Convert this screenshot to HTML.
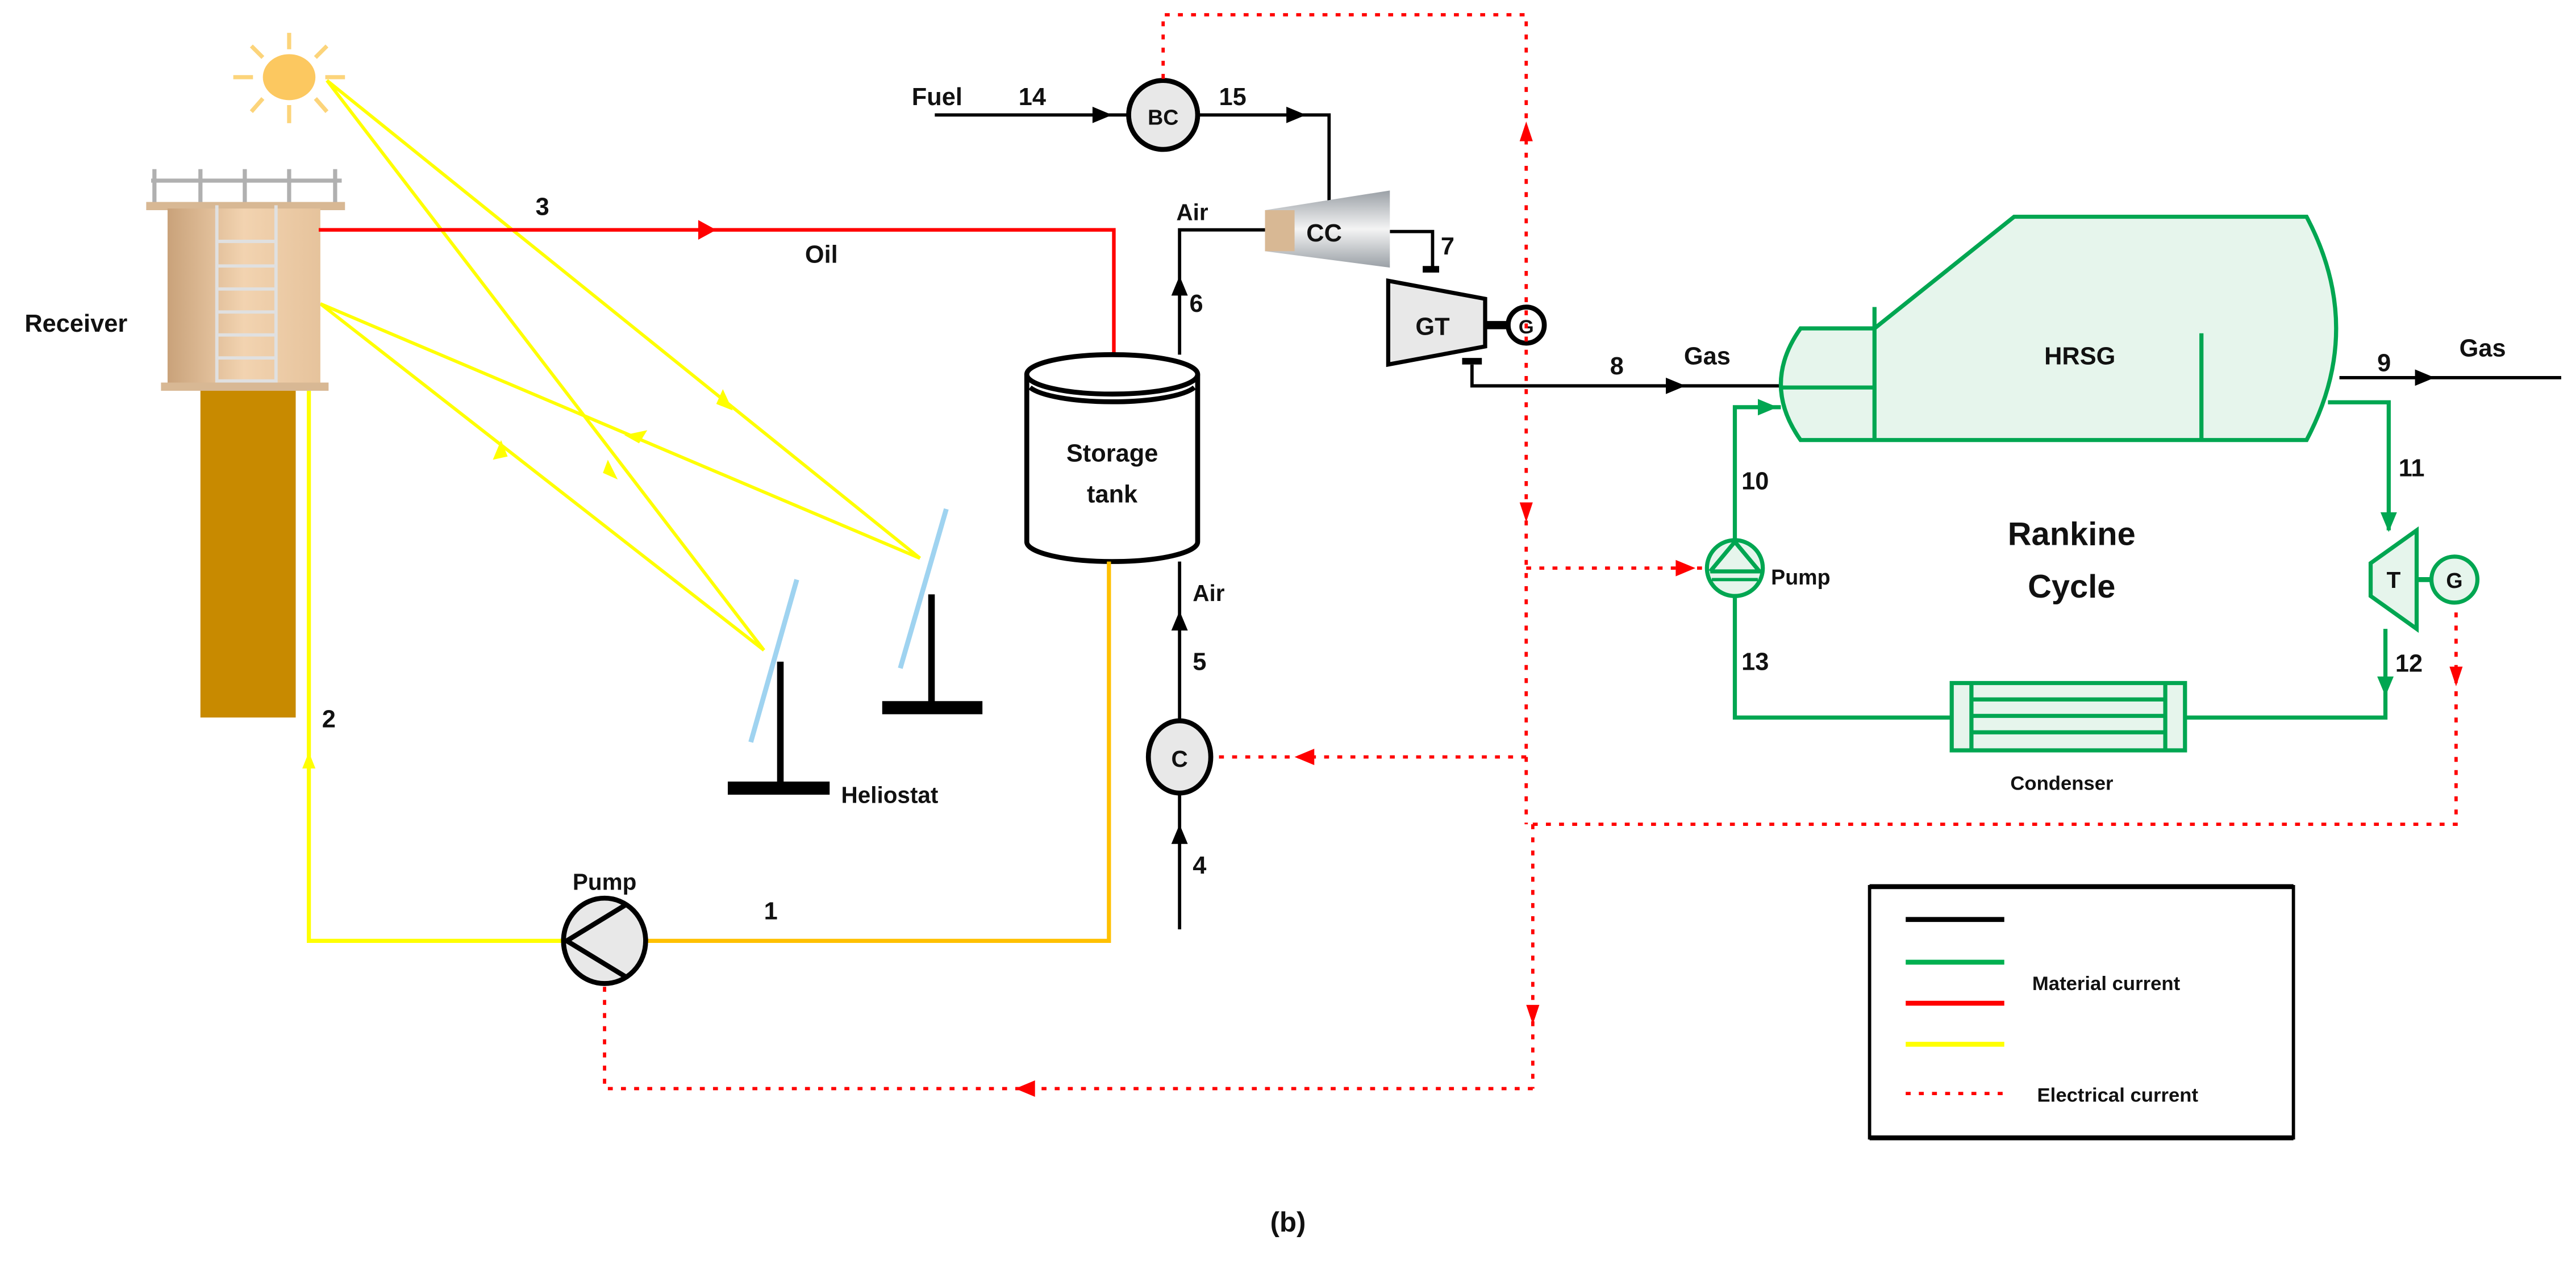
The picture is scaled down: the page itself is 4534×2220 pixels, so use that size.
<!DOCTYPE html>
<html><head><meta charset="utf-8"><style>html,body{margin:0;padding:0;background:#fff}svg{display:block}text{font-family:"Liberation Sans",Arial,sans-serif;font-weight:bold;fill:#111}</style></head>
<body>
<svg width="4534" height="2220" viewBox="0 0 1568 768" preserveAspectRatio="none" xmlns="http://www.w3.org/2000/svg">
<defs>
<linearGradient id="tw" x1="0" x2="1"><stop offset="0" stop-color="#c9a27a"/><stop offset="0.5" stop-color="#f2d3b0"/><stop offset="1" stop-color="#e6c39c"/></linearGradient>
<linearGradient id="cc" x1="0" x2="0" y1="0" y2="1"><stop offset="0" stop-color="#9aa0a6"/><stop offset="0.5" stop-color="#f4f4f4"/><stop offset="1" stop-color="#9aa0a6"/></linearGradient>
</defs>
<!-- sun -->
<g stroke="#fcd47a" stroke-width="2.5">
<line x1="176" y1="20" x2="176" y2="30"/><line x1="176" y1="64" x2="176" y2="75"/>
<line x1="142" y1="47" x2="154" y2="47"/><line x1="198" y1="47" x2="210" y2="47"/>
<line x1="153" y1="28" x2="160" y2="35"/><line x1="199" y1="28" x2="192" y2="35"/>
<line x1="153" y1="68" x2="160" y2="60"/><line x1="199" y1="68" x2="192" y2="60"/>
</g>
<ellipse cx="176" cy="47" rx="16" ry="14" fill="#fcc860"/>
<!-- yellow rays -->
<g stroke="#ffff00" stroke-width="2" fill="none">
<line x1="199" y1="49" x2="560" y2="340"/>
<line x1="199" y1="49" x2="465" y2="396"/>
<line x1="195" y1="185" x2="560" y2="340"/>
<line x1="195" y1="185" x2="465" y2="396"/>
</g>
<g fill="#ffff00">
<polygon points="440,237 446,250 436,246"/>
<polygon points="370,280 376,292 367,288"/>
<polygon points="380,265 394,262 389,270"/>
<polygon points="300,280 305,268 309,278"/>
</g>
<!-- tower -->
<g stroke="#b0b0b0" stroke-width="2.5"><line x1="92" y1="110" x2="208" y2="110"/>
<line x1="94" y1="103" x2="94" y2="124"/><line x1="122" y1="103" x2="122" y2="124"/><line x1="149" y1="103" x2="149" y2="124"/><line x1="176" y1="103" x2="176" y2="124"/><line x1="204" y1="103" x2="204" y2="124"/></g>
<rect x="89" y="123" width="121" height="5" fill="#d8b894"/>
<rect x="102" y="127" width="93" height="109" fill="url(#tw)"/>
<g stroke="#e0e0e0" stroke-width="2"><line x1="132" y1="125" x2="132" y2="236"/><line x1="168" y1="125" x2="168" y2="236"/>
<line x1="132" y1="147" x2="168" y2="147"/><line x1="132" y1="162" x2="168" y2="162"/><line x1="132" y1="176" x2="168" y2="176"/><line x1="132" y1="190" x2="168" y2="190"/><line x1="132" y1="204" x2="168" y2="204"/><line x1="132" y1="218" x2="168" y2="218"/><line x1="132" y1="232" x2="168" y2="232"/></g>
<rect x="98" y="233" width="102" height="5" fill="#d8b894"/>
<rect x="122" y="238" width="58" height="199" fill="#c88a00"/>
<text x="15" y="202" font-size="15">Receiver</text>
<!-- red oil -->
<polyline points="194,140 678,140 678,216" stroke="#ff0000" stroke-width="2.2" fill="none"/>
<polygon points="425,134 436,140 425,146" fill="#ff0000"/>
<text x="326" y="131" font-size="15">3</text>
<text x="490" y="160" font-size="15">Oil</text>
<!-- tank -->
<path d="M625,228 L625,330 A52,12 0 0 0 729,330 L729,228" fill="#fff" stroke="#000" stroke-width="3"/>
<ellipse cx="677" cy="228" rx="52" ry="12" fill="#fff" stroke="#000" stroke-width="3"/>
<path d="M627,236 A52,12 0 0 0 727,236" fill="none" stroke="#000" stroke-width="3"/>
<text x="677" y="281" font-size="15" text-anchor="middle">Storage</text>
<text x="677" y="306" font-size="15" text-anchor="middle">tank</text>
<!-- yellow/orange loop -->
<polyline points="675,342 675,573 394,573" stroke="#ffc000" stroke-width="2.5" fill="none"/>
<polyline points="343,573 188,573 188,238" stroke="#ffff00" stroke-width="2.5" fill="none"/>
<polygon points="184,468 188,458 192,468" fill="#ffff00"/>
<text x="196" y="443" font-size="15">2</text>
<text x="465" y="560" font-size="15">1</text>
<ellipse cx="368" cy="573" rx="25" ry="26" fill="#e8e8e8" stroke="#000" stroke-width="3"/>
<polyline points="381,551 345,573 381,595" fill="none" stroke="#000" stroke-width="3"/>
<text x="368" y="542" font-size="14" text-anchor="middle">Pump</text>
<!-- heliostats -->
<line x1="576" y1="310" x2="548" y2="407" stroke="#9fd3f0" stroke-width="3"/>
<line x1="567" y1="362" x2="567" y2="430" stroke="#000" stroke-width="4"/>
<rect x="537" y="427" width="61" height="8" fill="#000"/>
<line x1="485" y1="353" x2="457" y2="452" stroke="#9fd3f0" stroke-width="3"/>
<line x1="475" y1="403" x2="475" y2="478" stroke="#000" stroke-width="4"/>
<rect x="443" y="476" width="62" height="8" fill="#000"/>
<text x="512" y="489" font-size="14">Heliostat</text>
<!-- air line -->
<g stroke="#000" stroke-width="2" fill="none">
<polyline points="718,216 718,140 772,140"/>
<line x1="718" y1="342" x2="718" y2="438"/>
<line x1="718" y1="483" x2="718" y2="566"/>
<line x1="569" y1="70" x2="687" y2="70"/>
<polyline points="730,70 809,70 809,124"/>
<polyline points="846,141 872,141 872,163"/>
<polyline points="896,222 896,235 1084,235"/>
<line x1="1424" y1="230" x2="1559" y2="230"/>
</g>
<g fill="#000">
<polygon points="713,180 718,168 723,180"/>
<polygon points="713,384 718,372 723,384"/>
<polygon points="713,514 718,502 723,514"/>
<polygon points="665,65 677,70 665,75"/>
<polygon points="783,65 795,70 783,75"/>
<polygon points="1014,230 1026,235 1014,240"/>
<polygon points="1470,225 1482,230 1470,235"/>
</g>
<text x="724" y="190" font-size="15">6</text>
<text x="716" y="134" font-size="14">Air</text>
<text x="726" y="366" font-size="14">Air</text>
<text x="726" y="408" font-size="15">5</text>
<text x="726" y="532" font-size="15">4</text>
<text x="555" y="64" font-size="15">Fuel</text>
<text x="620" y="64" font-size="15">14</text>
<text x="742" y="64" font-size="15">15</text>
<text x="877" y="155" font-size="15">7</text>
<text x="980" y="228" font-size="15">8</text>
<text x="1025" y="222" font-size="15">Gas</text>
<text x="1447" y="226" font-size="15">9</text>
<text x="1497" y="217" font-size="15">Gas</text>
<!-- C -->
<ellipse cx="718" cy="461" rx="19" ry="22" fill="#e8e8e8" stroke="#000" stroke-width="3"/>
<text x="718" y="467" font-size="14" text-anchor="middle">C</text>
<!-- BC -->
<circle cx="708" cy="70" r="21" fill="#e8e8e8" stroke="#000" stroke-width="3"/>
<text x="708" y="76" font-size="13" text-anchor="middle" font-weight="normal">BC</text>
<!-- CC -->
<polygon points="770,128 846,116 846,163 770,153" fill="url(#cc)"/>
<rect x="770" y="128" width="18" height="25" fill="#d8b894"/>
<text x="806" y="147" font-size="15" text-anchor="middle">CC</text>
<!-- GT -->
<rect x="866" y="162" width="10" height="4" fill="#000"/>
<rect x="890" y="218" width="12" height="4" fill="#000"/>
<polygon points="845,171 904,182 904,211 845,222" fill="#e8e8e8" stroke="#000" stroke-width="2.5"/>
<text x="872" y="204" font-size="15" text-anchor="middle">GT</text>
<line x1="904" y1="198" x2="918" y2="198" stroke="#000" stroke-width="5"/>
<circle cx="929" cy="198" r="11" fill="#fff" stroke="#000" stroke-width="3"/>
<text x="929" y="203" font-size="12" text-anchor="middle" font-weight="normal">G</text>
<!-- red dashed -->
<g stroke="#ff0000" stroke-width="2" stroke-dasharray="3,5" fill="none">
<polyline points="708,48 708,9 929,9 929,502"/>
<line x1="933" y1="502" x2="933" y2="663"/>
<line x1="929" y1="346" x2="1038" y2="346"/>
<line x1="929" y1="461" x2="740" y2="461"/>
<polyline points="933,502 1495,502 1495,370"/>
<polyline points="933,663 368,663 368,600"/>
</g>
<g fill="#ff0000">
<polygon points="925,86 929,74 933,86"/>
<polygon points="925,306 929,318 933,306"/>
<polygon points="929,612 933,624 937,612"/>
<polygon points="1020,341 1032,346 1020,351"/>
<polygon points="800,456 788,461 800,466"/>
<polygon points="1491,406 1495,418 1499,406"/>
<polygon points="630,658 618,663 630,668"/>
</g>
<!-- HRSG -->
<path d="M1096,200 L1141,200 L1226,132 L1404,132 Q1440,200 1404,268 L1096,268 Q1072,234 1096,200 Z" fill="#e6f5ec" stroke="#00a651" stroke-width="2.5"/>
<g stroke="#00a651" stroke-width="2.5" fill="none">
<line x1="1141" y1="187" x2="1141" y2="268"/>
<line x1="1084" y1="236" x2="1141" y2="236"/>
<line x1="1340" y1="203" x2="1340" y2="268"/>
<polyline points="1056,329 1056,248 1084,248"/>
<polyline points="1417,245 1454,245 1454,323"/>
<polyline points="1056,362 1056,437 1188,437"/>
<polyline points="1330,437 1452,437 1452,383"/>
</g>
<g fill="#00a651">
<polygon points="1070,243 1082,248 1070,253"/>
<polygon points="1449,312 1454,324 1459,312"/>
<polygon points="1447,412 1452,424 1457,412"/>
</g>
<text x="1266" y="222" font-size="15" text-anchor="middle">HRSG</text>
<text x="1060" y="298" font-size="15">10</text>
<text x="1460" y="290" font-size="15">11</text>
<text x="1060" y="408" font-size="15">13</text>
<text x="1458" y="409" font-size="15">12</text>
<text x="1261" y="332" font-size="20" text-anchor="middle">Rankine</text>
<text x="1261" y="364" font-size="20" text-anchor="middle">Cycle</text>
<!-- pump 10 -->
<ellipse cx="1056" cy="346" rx="17" ry="17" fill="#e6f5ec" stroke="#00a651" stroke-width="2.5"/>
<polyline points="1041,348 1056,330 1071,348 1041,348" fill="none" stroke="#00a651" stroke-width="2.5"/>
<line x1="1042" y1="353" x2="1070" y2="353" stroke="#00a651" stroke-width="2"/>
<text x="1078" y="356" font-size="13">Pump</text>
<!-- turbine -->
<polygon points="1471,323 1471,383 1443,363 1443,343" fill="#e6f5ec" stroke="#00a651" stroke-width="2.5"/>
<text x="1457" y="358" font-size="14" text-anchor="middle">T</text>
<line x1="1471" y1="353" x2="1480" y2="353" stroke="#00a651" stroke-width="3"/>
<circle cx="1494" cy="353" r="14" fill="#e6f5ec" stroke="#00a651" stroke-width="2.5"/>
<text x="1494" y="358" font-size="13" text-anchor="middle" font-weight="normal">G</text>
<!-- condenser -->
<rect x="1188" y="416" width="142" height="41" fill="#e6f5ec" stroke="#00a651" stroke-width="2.5"/>
<g stroke="#00a651" stroke-width="2.5"><line x1="1200" y1="416" x2="1200" y2="457"/><line x1="1318" y1="416" x2="1318" y2="457"/>
<line x1="1200" y1="426" x2="1318" y2="426"/><line x1="1200" y1="436" x2="1318" y2="436"/><line x1="1200" y1="446" x2="1318" y2="446"/></g>
<text x="1255" y="481" font-size="12" text-anchor="middle" font-weight="normal">Condenser</text>
<!-- legend -->
<rect x="1138" y="540" width="258" height="153" fill="#fff" stroke="#000" stroke-width="2"/>
<line x1="1138" y1="540" x2="1396" y2="540" stroke="#000" stroke-width="3"/>
<line x1="1138" y1="693" x2="1396" y2="693" stroke="#000" stroke-width="3"/>
<line x1="1160" y1="560" x2="1220" y2="560" stroke="#000" stroke-width="3"/>
<line x1="1160" y1="586" x2="1220" y2="586" stroke="#00b050" stroke-width="3"/>
<line x1="1160" y1="611" x2="1220" y2="611" stroke="#ff0000" stroke-width="3"/>
<line x1="1160" y1="636" x2="1220" y2="636" stroke="#ffff00" stroke-width="3"/>
<line x1="1160" y1="666" x2="1220" y2="666" stroke="#ff0000" stroke-width="2" stroke-dasharray="3,5"/>
<text x="1237" y="603" font-size="12">Material current</text>
<text x="1240" y="671" font-size="12">Electrical current</text>
<text x="784" y="750" font-size="17" text-anchor="middle" font-weight="normal" font-family="Liberation Serif, serif">(<tspan font-weight="bold">b</tspan>)</text>
</svg>
</body></html>
